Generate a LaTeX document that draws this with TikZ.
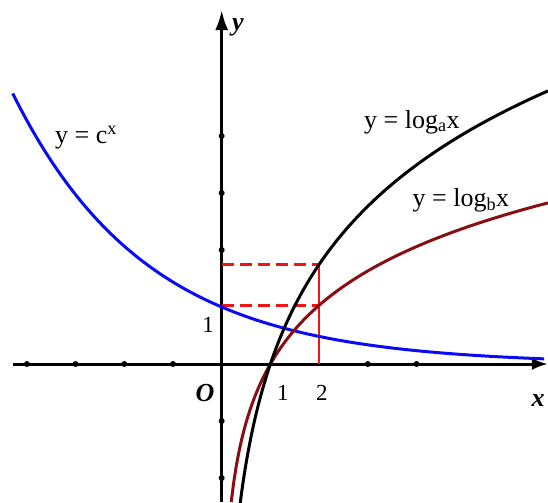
\documentclass[tikz,border=0pt]{standalone}
\usepackage{fontspec}
\setmainfont{Liberation Serif}
\usetikzlibrary{arrows.meta}
\definecolor{curveblue}{RGB}{10,10,245}
\definecolor{curvebrown}{RGB}{135,15,20}
\definecolor{guidered}{RGB}{240,20,20}
\tikzset{
  axisline/.style={line width=3pt, black},
  tickdot/.style={circle, fill=black, inner sep=0pt, minimum size=6pt},
  curve/.style={line width=3pt, smooth, samples=120},
  guide/.style={line width=2.6pt, guidered, dash pattern=on 12pt off 6pt},
  curvelabel/.style={font=\fontsize{26}{30}\selectfont, inner sep=0pt},
  ticklabel/.style={font=\fontsize{23}{26}\selectfont, inner sep=0pt},
  axislabel/.style={font=\fontsize{26}{30}\selectfont\bfseries\itshape, inner sep=0pt}
}
\begin{document}
\begin{tikzpicture}[x=48.7pt, y=57pt]
\useasboundingbox (-4.552,-2.421) rectangle (6.700,6.386);
% axes
\coordinate (xl) at (-4.28,0);
\coordinate (xr) at (6.70,0);
\coordinate (yb) at (0,-2.421);
\coordinate (yt) at (0,6.21);
\draw[axisline, -{Latex[length=16pt,width=12pt]}] (xl) -- (xr);
\draw[axisline, -{Latex[length=20pt,width=13pt]}] (yb) -- (yt);
% ticks
\foreach \i in {-4,-3,-2,-1,3,4}
  \node[tickdot] (xt\i) at (\i,0) {};
\foreach \j in {-2,-1,2,3,4}
  \node[tickdot] (yt\j) at (0,\j) {};
% red guides
\pgfmathsetmacro{\la}{ln(2)/0.397}
\pgfmathsetmacro{\lb}{ln(2)/0.673}
\coordinate (x2) at (2,0);
\coordinate (pa) at (2,\la);
\coordinate (pb) at (2,\lb);
\coordinate (ya) at (0,\la);
\coordinate (yb2) at (0,\lb);
\draw[line width=2.8pt, guidered] (x2) -- (pa);
\draw[guide] (ya) -- (pa);
\draw[guide] (yb2) -- (pb);
% curves
\draw[curve, curveblue, domain=-4.29:6.62] plot (\x,{exp(-0.363*\x)});
\draw[curve, curvebrown, domain=0.196:6.70] plot (\x,{ln(\x)/0.673});
\draw[curve, black, domain=0.38:6.70] plot (\x,{ln(\x)/0.397});
% labels
\node[curvelabel] (lc) at (-2.786,3.965) {y = c\textsuperscript{x}};
\node[curvelabel] (la) at (3.907,4.246) {y = log\textsubscript{a}x};
\node[curvelabel] (lb) at (4.913,2.877) {y = log\textsubscript{b}x};
\node[axislabel] (ylab) at (0.335,5.912) {y};
\node[axislabel] (xlab) at (6.496,-0.632) {x};
\node[axislabel] (olab) at (-0.343,-0.509) {O};
\node[ticklabel] (one) at (1.258,-0.509) {1};
\node[ticklabel] (two) at (2.058,-0.509) {2};
\node[ticklabel] (yone) at (-0.281,0.684) {1};
\end{tikzpicture}
\end{document}
